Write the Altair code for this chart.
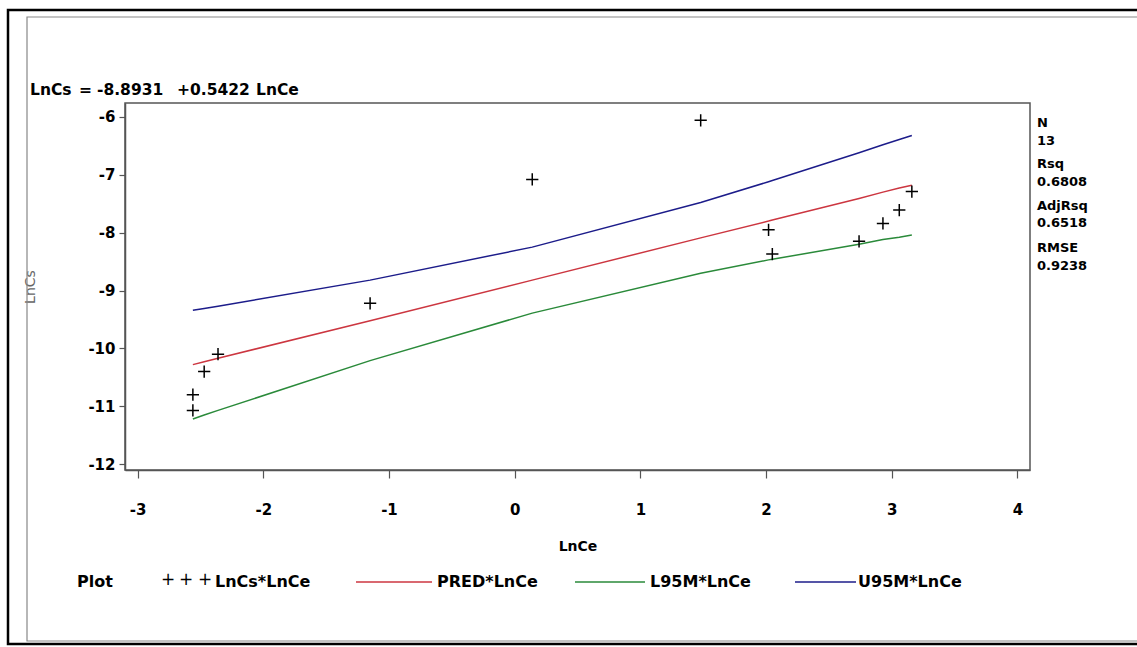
import altair as alt
import pandas as pd

# observed data
ln_ce = [-2.56, -2.56, -2.47, -2.36, -1.15, 0.14, 1.48, 2.02, 2.05, 2.74, 2.93, 3.06, 3.16]
ln_cs = [-10.80, -11.07, -10.40, -10.10, -9.22, -7.08, -6.06, -7.95, -8.37, -8.15, -7.84, -7.61, -7.29]

# fitted line and 95% mean confidence limits, read at the observed LnCe values
line_x = [-2.56, -2.47, -2.36, -1.15, 0.14, 1.48, 2.02, 2.05, 2.74, 2.93, 3.06, 3.16]
pred = [-10.28, -10.23, -10.17, -9.52, -8.82, -8.09, -7.80, -7.78, -7.41, -7.30, -7.23, -7.18]
l95m = [-11.22, -11.15, -11.07, -10.21, -9.39, -8.70, -8.47, -8.46, -8.20, -8.12, -8.08, -8.04]
u95m = [-9.34, -9.31, -9.27, -8.82, -8.25, -7.48, -7.12, -7.10, -6.62, -6.48, -6.39, -6.32]

x_ticks = [-3, -2, -1, 0, 1, 2, 3, 4]
y_ticks = [-12, -11, -10, -9, -8, -7, -6]

equation_parts = ["LnCs", "=", "-8.8931", "+0.5422", "LnCe"]
stats = ["N", "13", "Rsq", "0.6808", "AdjRsq", "0.6518", "RMSE", "0.9238"]
legend_labels = ["LnCs*LnCe", "PRED*LnCe", "L95M*LnCe", "U95M*LnCe"]

RED = "#cc3640"
GREEN = "#2a8a3a"
BLUE = "#1c1c8a"
FONT = "DejaVu Sans, sans-serif"

pts = pd.DataFrame({"LnCe": ln_ce, "LnCs": ln_cs})
lines = pd.DataFrame({"LnCe": line_x, "PRED": pred, "L95M": l95m, "U95M": u95m})

xs = alt.Scale(domain=[-3.1, 4.1], nice=False, zero=False)
ys = alt.Scale(domain=[-12.1, -5.76], nice=False, zero=False)

xax = alt.Axis(values=x_ticks, tickSize=8, labelPadding=24, title="LnCe", titlePadding=22,
               grid=False, labelExpr="'' + datum.value")
yax = alt.Axis(values=y_ticks, tickSize=6, labelPadding=4, title="LnCs", titlePadding=50,
               grid=False, labelExpr="'' + datum.value")

plus = "M -1 0 L 1 0 M 0 -1 L 0 1"

points = alt.Chart(pts).mark_point(shape=plus, size=150, filled=False, color="black",
                                   strokeWidth=1.5, opacity=1).encode(
    x=alt.X("LnCe:Q", scale=xs, axis=xax),
    y=alt.Y("LnCs:Q", scale=ys, axis=yax),
)


def band(col, color):
    return alt.Chart(lines).mark_line(color=color, strokeWidth=1.5).encode(
        x=alt.X("LnCe:Q", scale=xs),
        y=alt.Y(f"{col}:Q", scale=ys),
    )


one = pd.DataFrame({"a": [0]})


def txt(s, x, y, size=14, weight="bold", align="left", color="black", font=FONT):
    return alt.Chart(one).mark_text(text=s, align=align, baseline="middle", fontSize=size,
                                    fontWeight=weight, color=color, font=font).encode(
        x=alt.value(x), y=alt.value(y))


def seg(x1, x2, y, color):
    return alt.Chart(one).mark_rule(color=color, strokeWidth=1.5).encode(
        x=alt.value(x1), x2=alt.value(x2), y=alt.value(y))


# origin of the plot area is at page (125, 103)
layers = [band("PRED", RED), band("L95M", GREEN), band("U95M", BLUE), points]

for s, xx in zip(equation_parts, [-95, -46, -28, 52, 131]):
    layers.append(txt(s, xx, -13, size=15.5))

stat_y = [20, 38, 61, 79, 103, 120, 145, 163]
for s, yy in zip(stats, stat_y):
    layers.append(txt(s, 912, yy, size=13))

ly = 479
layers.append(txt("Plot", -48, ly, size=16))
for px in [43, 61, 80]:
    layers.append(txt("+", px, ly - 2, size=17, weight="normal", align="center"))
layers.append(txt(legend_labels[0], 90, ly, size=16))
layers.append(seg(231, 307, ly, RED))
layers.append(txt(legend_labels[1], 312, ly, size=16))
layers.append(seg(450, 520, ly, GREEN))
layers.append(txt(legend_labels[2], 525, ly, size=16))
layers.append(seg(670, 731, ly, BLUE))
layers.append(txt(legend_labels[3], 733, ly, size=16))

# outer frames (cut by the right edge of the picture)
layers.append(alt.Chart(one).mark_rect(fill="transparent", stroke="black", strokeWidth=2.5).encode(
    x=alt.value(-117), x2=alt.value(1030), y=alt.value(-93), y2=alt.value(541)))
layers.append(alt.Chart(one).mark_rect(fill="transparent", stroke="#888", strokeWidth=1.2).encode(
    x=alt.value(-98), x2=alt.value(1030), y=alt.value(-86), y2=alt.value(538)))

chart = alt.layer(*layers).properties(
    width=905, height=367,
    autosize=alt.AutoSizeParams(type="none"),
    padding={"left": 125, "top": 103, "right": 107, "bottom": 177},
    background="white",
).configure_view(stroke="#555", strokeWidth=1.5).configure_axis(
    labelFont=FONT, labelFontSize=15, labelFontWeight="bold", labelColor="black",
    titleFont=FONT, titleFontSize=14, titleColor="black",
    domainColor="#555", domainWidth=1.5, tickColor="#555", tickWidth=1.2,
).configure_axisY(titleColor="#666", titleFontWeight="normal").configure_axisX(titleFontWeight="bold")

chart.save("out.html", embed_options={"renderer": "svg", "actions": False})
